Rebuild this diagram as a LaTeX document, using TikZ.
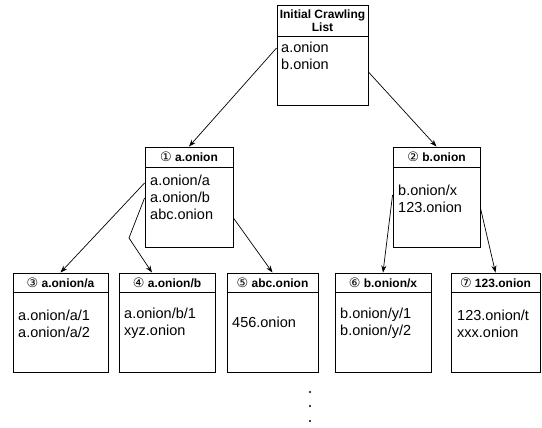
\documentclass[tikz,border=0pt]{standalone}
\usepackage{fontspec}
\setmainfont{Liberation Sans}
\newfontfamily\numfont{DejaVu Sans}
\usetikzlibrary{arrows.meta}
\tikzset{
  box/.style={draw, line width=0.9pt, inner sep=0pt, minimum height=100pt},
  hdr/.style={draw, line width=0.9pt, inner sep=0pt, anchor=north, align=center,
    font=\fontsize{12}{13.5}\selectfont\bfseries},
  body/.style={inner sep=0pt, anchor=west, align=left,
    font=\fontsize{14.5}{17}\selectfont},
  link/.style={-{Stealth[length=7pt,width=5pt]}, line width=0.7pt}
}
\newcommand{\cnum}[1]{{\numfont\mdseries\fontsize{13}{13}\selectfont #1}}

\begin{document}
\begin{tikzpicture}[x=1pt,y=-1pt]
      \useasboundingbox (0,0) rectangle (542,428);
      % Start list
      \node[box, minimum width=91pt] (init) at (322.5,55) {};
      \node[hdr, minimum width=91pt, minimum height=31pt] (inith) at (init.north) {Initial Crawling\\List};
      \node[body] (initt) at (281,56) {a.onion\\b.onion};
      % Level 1
      \node[box, minimum width=88pt] (n1) at (189,197) {};
      \node[hdr, minimum width=88pt, minimum height=20pt] (n1h) at (n1.north) {\cnum{①} a.onion};
      \node[body] (n1t) at (150,197) {a.onion/a\\a.onion/b\\abc.onion};
      \node[box, minimum width=87pt] (n2) at (436.5,197) {};
      \node[hdr, minimum width=87pt, minimum height=20pt] (n2h) at (n2.north) {\cnum{②} b.onion};
      \node[body] (n2t) at (398,198.5) {b.onion/x\\123.onion};
      % Level 2
      \node[box, minimum width=95pt, minimum height=99pt] (b3) at (60.5,322.5) {};
      \node[hdr, minimum width=95pt, minimum height=19pt] (b3h) at (b3.north) {\cnum{③} a.onion/a};
      \node[body] (b3t) at (18,323.5) {a.onion/a/1\\a.onion/a/2};
      \node[box, minimum width=96pt, minimum height=99pt] (b4) at (167,322.5) {};
      \node[hdr, minimum width=96pt, minimum height=19pt] (b4h) at (b4.north) {\cnum{④} a.onion/b};
      \node[body] (b4t) at (124,323.5) {a.onion/b/1\\xyz.onion};
      \node[box, minimum width=91pt, minimum height=99pt] (b5) at (272.5,322.5) {};
      \node[hdr, minimum width=91pt, minimum height=19pt] (b5h) at (b5.north) {\cnum{⑤} abc.onion};
      \node[body] (b5t) at (232,322) {456.onion};
      \node[box, minimum width=96pt, minimum height=99pt] (b6) at (383,322.5) {};
      \node[hdr, minimum width=96pt, minimum height=19pt] (b6h) at (b6.north) {\cnum{⑥} b.onion/x};
      \node[body] (b6t) at (340,323.5) {b.onion/y/1\\b.onion/y/2};
      \node[box, minimum width=89pt, minimum height=99pt] (b7) at (495.5,322.5) {};
      \node[hdr, minimum width=89pt, minimum height=19pt] (b7h) at (b7.north) {\cnum{⑦} 123.onion};
      \node[body] (b7t) at (457,323.5) {123.onion/t\\xxx.onion};
      % Pilar
      \draw[link] ([yshift=7pt]init.west) -- (n1.north);
      \draw[link] ([yshift=-17pt]init.east) -- (n2.north);
      \draw[link] ([yshift=14pt]n1.west) -- (b3.north);
      \coordinate (bend) at (129,238);
      \draw[link] ([yshift=-1pt]n1.west) -- (bend) -- ([xshift=-15pt]b4.north);
      \draw[link] ([yshift=-21pt]n1.east) -- (b5.north);
      \draw[link] ([yshift=2pt]n2.west) -- (b6.north);
      \draw[link] ([yshift=-11pt]n2.east) -- (b7.north);
      % Punkter
      \foreach \y in {392,406,421}
        \fill (310,\y) circle (1.2pt);
    \end{tikzpicture}
\end{document}
